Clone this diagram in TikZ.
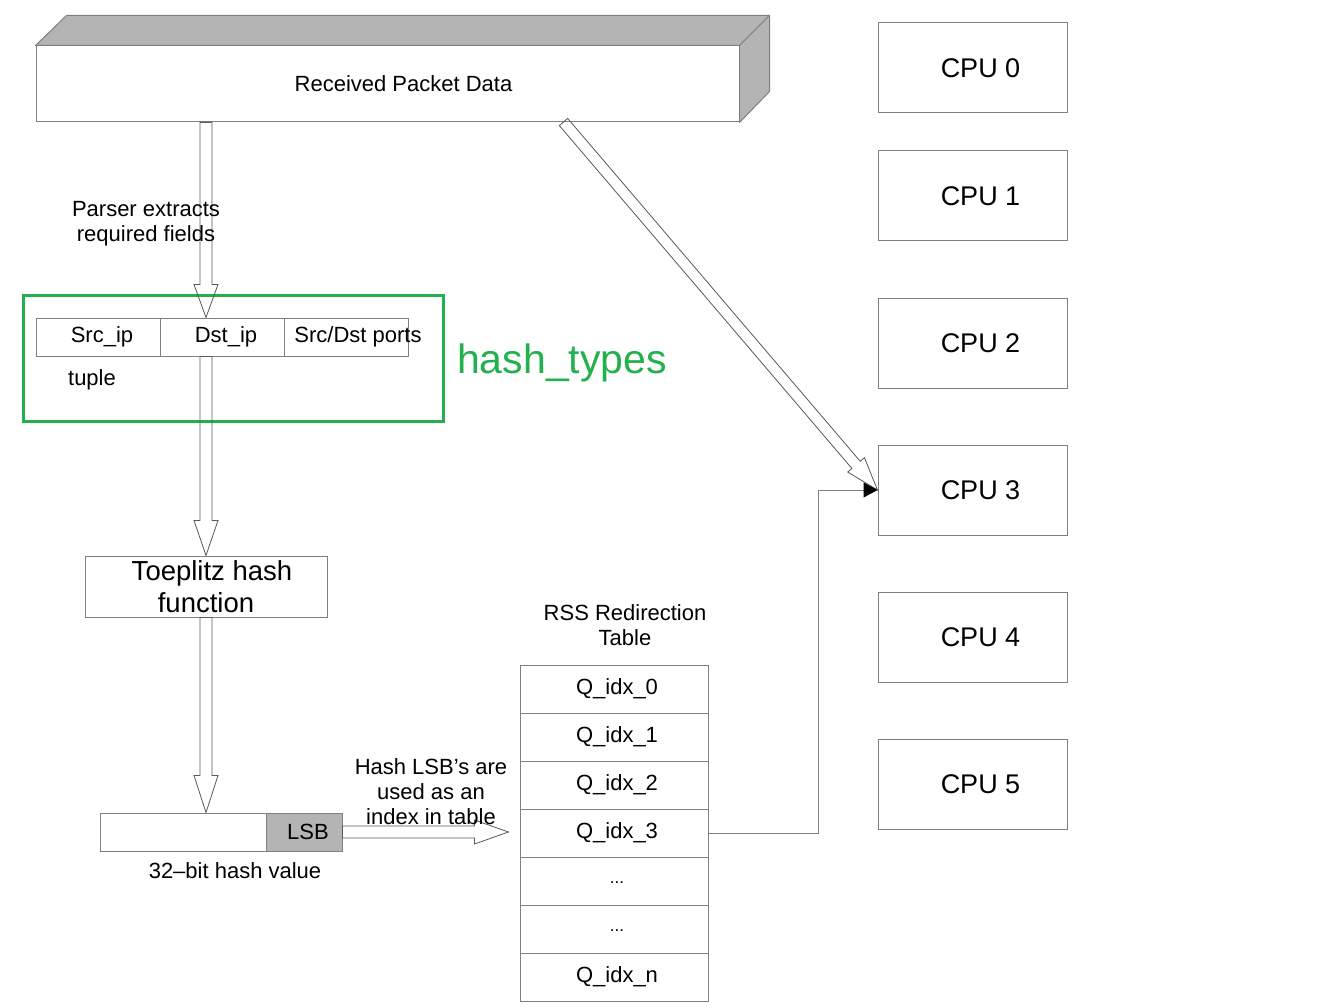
\documentclass[tikz,border=0pt]{standalone}
\usepackage{fontspec}
\setmainfont{Liberation Sans}
\usetikzlibrary{calc,arrows.meta}
\definecolor{lgray}{RGB}{128,128,128}
\definecolor{fgray}{RGB}{180,180,180}
\definecolor{hgreen}{RGB}{34,177,76}
% #1 start, #2 end, #3 shaft half width, #4 head half width, #5 head length
\newcommand{\hollowarrow}[5]{%
  \draw[hollowline] let \p1=(#1), \p2=(#2), \p3=($(\p2)!#5!(\p1)$) in
    ($(\p1)!#3!90:(\p2)$) -- ($(\p3)!#3!90:(\p2)$) -- ($(\p3)!#4!90:(\p2)$) -- (\p2)
    -- ($(\p3)!#4!-90:(\p2)$) -- ($(\p3)!#3!-90:(\p2)$) -- ($(\p1)!#3!-90:(\p2)$) -- cycle;}
\newcommand{\rowdots}{\raisebox{-4pt}{\fontsize{17}{17}\selectfont ...}}
\begin{document}
\begin{tikzpicture}[x=1pt,y=-1pt,
  box/.style={draw=lgray, line width=1pt, inner sep=0pt, anchor=center},
  body/.style={font=\fontsize{22}{25}\selectfont},
  hollowline/.style={draw=black!65, line width=0.8pt, line join=miter},
  face/.style={draw=lgray, line width=1pt, fill=fgray, line join=round}]
\fill[white] (0,0) rectangle (1330,1008);
\useasboundingbox (0,0) rectangle (1330,1008);

% packet
\node[box, minimum width=703pt, minimum height=76pt, font=\fontsize{22}{26}\selectfont] (pkt) at (387.5,84) {\hspace*{32pt}Received Packet Data};
\draw[face] (pkt.north west) -- ++(31,-30) -- ($(pkt.north east)+(30,-30)$) -- (pkt.north east) -- cycle;
\draw[face] (pkt.north east) -- ++(30,-30) -- ++(0,76) -- (pkt.south east) -- cycle;

% CPUs
\foreach \i/\y in {0/68,1/196,2/343,3/490,4/637,5/784}
  \node[box, minimum width=189pt, minimum height=90pt, font=\fontsize{27}{30}\selectfont] (cpu\i) at (972.5,\y) {\hspace*{16pt}CPU \i};

% hash types
\node[draw=hgreen, line width=3pt, minimum width=420pt, minimum height=126pt, inner sep=0pt] (ht) at (233,358) {};
\node[text=hgreen, font=\fontsize{41}{45}\selectfont, inner sep=0pt] (htl) at (562,363) {hash\_types};
\node[box, body, minimum width=124pt, minimum height=38pt] (c1) at (98,337) {\hspace*{8pt}Src\_ip};
\node[box, body, minimum width=124pt, minimum height=38pt] (c2) at (222,337) {\hspace*{8pt}Dst\_ip};
\node[box, minimum width=124pt, minimum height=38pt, label={[body, xshift=12pt, inner sep=0pt]center:Src/Dst ports}] (c3) at (346,337) {};
\node[body, inner sep=0pt] (tup) at (92,380) {tuple};

% toeplitz
\node[box, minimum width=242pt, minimum height=61pt, font=\fontsize{27.5}{32}\selectfont, align=center] (toe) at (206,586.5) {\hspace*{12pt}Toeplitz hash\\function};

% hash value
\node[box, minimum width=166pt, minimum height=38pt] (hv) at (183,832) {};
\node[box, fill=fgray, minimum width=76pt, minimum height=38pt, body] (lsb) at (304,832) {\hspace*{8pt}LSB};
\node[body, inner sep=0pt] (hvl) at (235,871) {32–bit hash value};

% table
\node[body, align=center, inner sep=0pt] (rssl) at (625,625) {RSS Redirection\\Table};
\foreach \i/\t in {0/Q\_idx\_0,1/Q\_idx\_1,2/Q\_idx\_2,3/Q\_idx\_3,4/\rowdots,5/\rowdots,6/Q\_idx\_n}
  \node[box, body, minimum width=188pt, minimum height=48pt] (q\i) at (614,{689+48*\i}) {\hspace*{6pt}\t};

% arrows
\coordinate (pk) at (563.5,122);
\hollowarrow{toe.north |- pkt.south}{toe.north |- c2.north}{6pt}{12pt}{33pt}
\hollowarrow{toe.north |- c2.south}{toe.north}{6pt}{12pt}{35pt}
\hollowarrow{toe.south}{toe.south |- hv.north}{6pt}{12pt}{37pt}
\hollowarrow{lsb.east}{$(lsb.east -| q3.west)+(-11,0)$}{6pt}{12pt}{34pt}
\hollowarrow{pk}{cpu3.west}{5.5pt}{11pt}{33pt}
\draw[draw=lgray, line width=1pt, -{Triangle[length=14pt,width=15pt,color=black]}] (q3.east) -- ++(110,0) |- (cpu3.west);

% labels
\node[body, align=center, inner sep=0pt] (parse) at (146,224) {Parser extracts\\required fields};
\node[body, align=center, inner sep=0pt] (lsbl) at (431,792) {Hash LSB’s are\\used as an\\index in table};
\end{tikzpicture}
\end{document}
